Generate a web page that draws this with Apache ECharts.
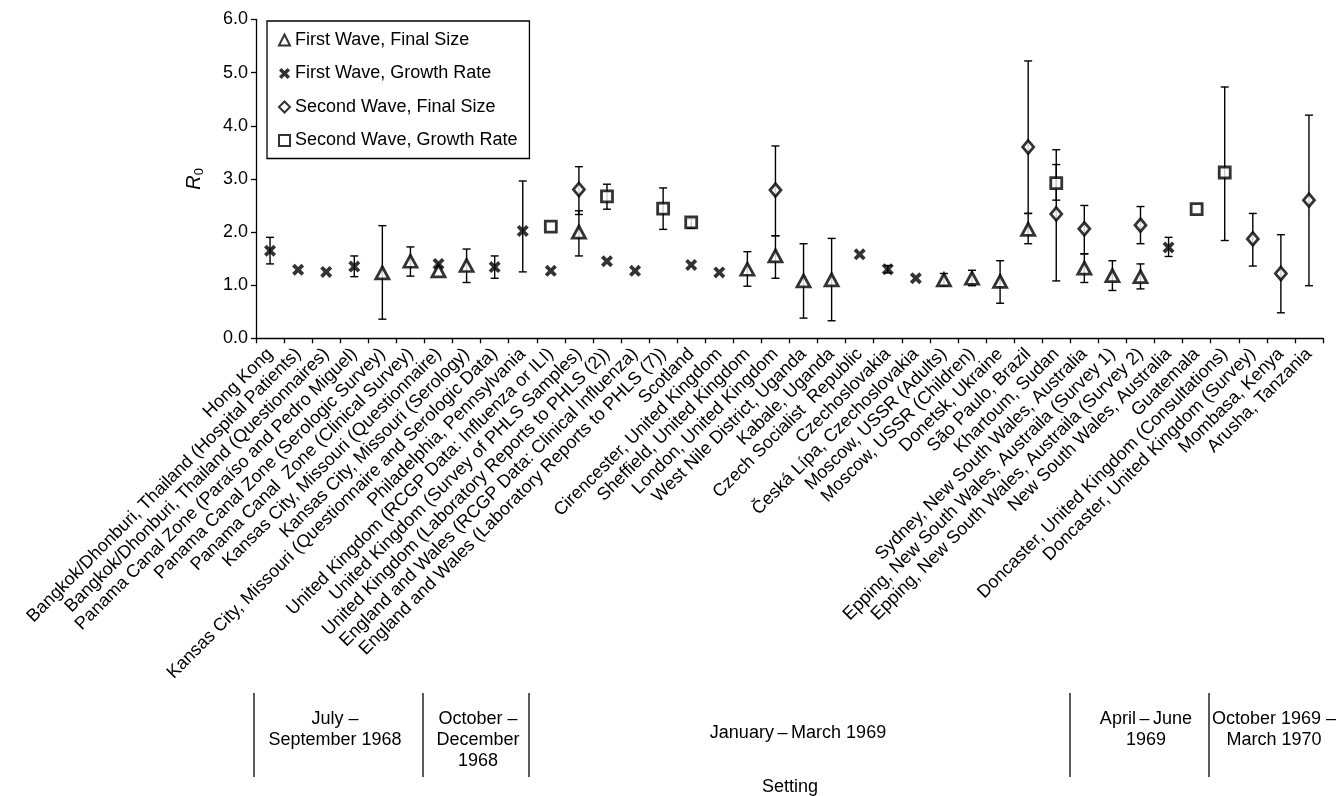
<!DOCTYPE html>
<html>
<head>
<meta charset="utf-8">
<script src="https://cdn.jsdelivr.net/npm/echarts@6/dist/echarts.min.js"></script>
<style>
html,body{margin:0;padding:0;background:#fff;}
#chart{width:1337px;height:796px;}
</style>
</head>
<body>
<div id="chart"></div>
<script>
const categories = [
  'Hong Kong',
  'Bangkok/Dhonburi, Thailand (Hospital Patients)',
  'Bangkok/Dhonburi, Thailand (Questionnaires)',
  'Panama Canal Zone (Paraíso and Pedro Miguel)',
  'Panama Canal Zone (Serologic Survey)',
  'Panama Canal  Zone (Clinical Survey)',
  'Kansas City, Missouri (Questionnaire)',
  'Kansas City, Missouri (Serology)',
  'Kansas City, Missouri (Questionnaire and Serologic Data)',
  'Philadelphia, Pennsylvania',
  'United Kingdom (RCGP Data: Influenza or ILI)',
  'United Kingdom (Survey of PHLS Samples)',
  'United Kingdom (Laboratory Reports to PHLS (2))',
  'England and Wales (RCGP Data: Clinical Influenza)',
  'England and Wales (Laboratory Reports to PHLS (7))',
  'Scotland',
  'Cirencester, United Kingdom',
  'Sheffield, United Kingdom',
  'London, United Kingdom',
  'West Nile District, Uganda',
  'Kabale, Uganda',
  'Czech Socialist  Republic',
  'Czechoslovakia',
  'Česká Lípa, Czechoslovakia',
  'Moscow, USSR (Adults)',
  'Moscow, USSR (Children)',
  'Donetsk, Ukraine',
  'São Paulo, Brazil',
  'Khartoum, Sudan',
  'Sydney, New South Wales, Australia',
  'Epping, New South Wales, Austraila (Survey 1)',
  'Epping, New South Wales, Austraila (Survey 2)',
  'New South Wales, Australia',
  'Guatemala',
  'Doncaster, United Kingdom (Consultations)',
  'Doncaster, United Kingdom (Survey)',
  'Mombasa, Kenya',
  'Arusha, Tanzania'
];

// [categoryIndex, R0, lower, upper]  (null bounds = no error bar)
const firstWaveFinalSize = [
  [4, 1.23, 0.36, 2.12], [5, 1.45, 1.17, 1.72], [6, 1.27, null, null], [7, 1.37, 1.05, 1.68],
  [11, 2.00, 1.55, 2.40], [17, 1.30, 0.98, 1.63], [18, 1.55, 1.13, 1.93], [19, 1.08, 0.38, 1.78],
  [20, 1.10, 0.33, 1.88], [24, 1.10, 0.99, 1.22], [25, 1.13, 0.99, 1.28], [26, 1.07, 0.66, 1.46],
  [27, 2.05, 1.78, 2.35], [29, 1.32, 1.05, 1.59], [30, 1.18, 0.90, 1.46], [31, 1.16, 0.93, 1.40]
];
const firstWaveGrowthRate = [
  [0, 1.65, 1.40, 1.90], [1, 1.29, null, null], [2, 1.25, null, null], [3, 1.35, 1.16, 1.55],
  [6, 1.40, null, null], [8, 1.34, 1.13, 1.55], [9, 2.02, 1.25, 2.96], [10, 1.27, null, null],
  [12, 1.45, null, null], [13, 1.27, null, null], [15, 1.38, null, null], [16, 1.24, null, null],
  [21, 1.58, null, null], [22, 1.30, 1.23, 1.37], [23, 1.13, null, null], [32, 1.71, 1.54, 1.90]
];
const secondWaveFinalSize = [
  [11, 2.80, 2.33, 3.23], [18, 2.79, 1.93, 3.62], [27, 3.60, 2.35, 5.22], [28, 2.34, 1.08, 3.55],
  [29, 2.06, 1.59, 2.50], [31, 2.13, 1.78, 2.48], [35, 1.87, 1.36, 2.35], [36, 1.22, 0.48, 1.95],
  [37, 2.60, 0.99, 4.20]
];
const secondWaveGrowthRate = [
  [10, 2.10, null, null], [12, 2.67, 2.43, 2.90], [14, 2.44, 2.05, 2.83], [15, 2.18, 2.07, 2.25],
  [28, 2.92, 2.60, 3.27], [33, 2.43, null, null], [34, 3.12, 1.84, 4.73]
];
const yTicks = [0, 1, 2, 3, 4, 5, 6];
const periods = [
  { text: 'July –\nSeptember 1968', x: 335, y: 730 },
  { text: 'October –\nDecember\n1968', x: 478, y: 740 },
  { text: 'January\u2009–\u2009March 1969', x: 798, y: 733 },
  { text: 'April\u2009–\u2009June\n1969', x: 1146, y: 730 },
  { text: 'October 1969 –\nMarch 1970', x: 1274, y: 730 }
];
const periodDividers = [254, 423, 529, 1070, 1209];

const FONT = '"Liberation Sans", Arial, Helvetica, sans-serif';
const X_PATH = 'path://M0,2.2 L2.2,0 L5,2.8 L7.8,0 L10,2.2 L7.2,5 L10,7.8 L7.8,10 L5,7.2 L2.2,10 L0,7.8 L2.8,5 Z';

function points(arr) { return arr.map(d => [d[0], d[1]]); }
function bars(arr) { return arr.filter(d => d[2] != null).map(d => [d[0], d[2], d[3]]); }

function renderErrorBar(params, api) {
  const lo = api.coord([api.value(0), api.value(1)]);
  const hi = api.coord([api.value(0), api.value(2)]);
  const w = 4;
  const style = { stroke: '#000', lineWidth: 1.4 };
  return {
    type: 'group',
    children: [
      { type: 'line', shape: { x1: lo[0], y1: lo[1], x2: hi[0], y2: hi[1] }, style },
      { type: 'line', shape: { x1: lo[0] - w, y1: lo[1], x2: lo[0] + w, y2: lo[1] }, style },
      { type: 'line', shape: { x1: hi[0] - w, y1: hi[1], x2: hi[0] + w, y2: hi[1] }, style }
    ]
  };
}

function errSeries(arr) {
  return {
    type: 'custom', renderItem: renderErrorBar, data: bars(arr),
    encode: { x: 0, y: [1, 2] }, z: 2, silent: true
  };
}

const hollow = { color: '#fff', borderColor: '#000', borderWidth: 2.8 };

const chart = echarts.init(document.getElementById('chart'), null, { renderer: 'canvas' });
const graphic = [];
periodDividers.forEach(x => graphic.push({
  type: 'line', shape: { x1: x, y1: 693, x2: x, y2: 777 },
  style: { stroke: '#000', lineWidth: 1.3 }
}));
periods.forEach(p => graphic.push({
  type: 'text', x: p.x, y: p.y,
  style: { text: p.text, font: '18px ' + FONT, fill: '#000', align: 'center', verticalAlign: 'middle', lineHeight: 21 }
}));
graphic.push({
  type: 'text', x: 790, y: 787,
  style: { text: 'Setting', font: '18px ' + FONT, fill: '#000', align: 'center', verticalAlign: 'middle' }
});

chart.setOption({
  animation: false,
  backgroundColor: '#fff',
  textStyle: { fontFamily: FONT, color: '#000' },
  grid: { left: 256, right: 14, top: 19.5, bottom: 457.7, containLabel: false },
  legend: {
    data: ['First Wave, Final Size', 'First Wave, Growth Rate', 'Second Wave, Final Size', 'Second Wave, Growth Rate'],
    orient: 'vertical', left: 267, top: 21,
    borderColor: '#000', borderWidth: 1.3, borderRadius: 0,
    padding: [10, 12, 9, 11], itemGap: 15.5, itemWidth: 11, itemHeight: 11, itemTextGap: 7,
    textStyle: { fontSize: 18, fontFamily: FONT, color: '#000' },
    backgroundColor: '#fff'
  },
  xAxis: {
    type: 'category', data: categories, boundaryGap: true,
    axisLine: { lineStyle: { color: '#000', width: 1.3 } },
    axisTick: { show: true, interval: 0, length: 5, lineStyle: { color: '#000', width: 1.3 } },
    axisLabel: { interval: 0, rotate: 45, fontSize: 18, color: '#000', fontFamily: FONT, margin: 13 },
    splitLine: { show: false }
  },
  yAxis: {
    type: 'value', min: yTicks[0], max: yTicks[yTicks.length - 1], interval: 1,
    name: '{r|R}{s|0}', nameLocation: 'middle', nameGap: 50,
    nameTextStyle: {
      rich: {
        r: { fontStyle: 'italic', fontSize: 20, fontFamily: FONT, color: '#000', lineHeight: 23 },
        s: { fontSize: 13, fontFamily: FONT, color: '#000', lineHeight: 23, padding: [9, 0, 0, 0] }
      }
    },
    axisLine: { show: true, lineStyle: { color: '#000', width: 1.3 } },
    axisTick: { show: true, length: 5, lineStyle: { color: '#000', width: 1.3 } },
    axisLabel: { formatter: v => v.toFixed(1), fontSize: 18, color: '#000', fontFamily: FONT, margin: 8 },
    splitLine: { show: false }
  },
  graphic: graphic,
  series: [
    errSeries(firstWaveFinalSize),
    errSeries(firstWaveGrowthRate),
    errSeries(secondWaveFinalSize),
    errSeries(secondWaveGrowthRate),
    {
      name: 'First Wave, Final Size', type: 'scatter', data: points(firstWaveFinalSize),
      symbol: 'triangle', symbolSize: [13, 12], itemStyle: hollow, z: 5
    },
    {
      name: 'First Wave, Growth Rate', type: 'scatter', data: points(firstWaveGrowthRate),
      symbol: X_PATH, symbolSize: 12, itemStyle: { color: '#000', borderWidth: 0 }, z: 6
    },
    {
      name: 'Second Wave, Final Size', type: 'scatter', data: points(secondWaveFinalSize),
      symbol: 'diamond', symbolSize: [11, 13], itemStyle: hollow, z: 5
    },
    {
      name: 'Second Wave, Growth Rate', type: 'scatter', data: points(secondWaveGrowthRate),
      symbol: 'rect', symbolSize: 11, itemStyle: hollow, z: 5
    }
  ]
});
</script>
</body>
</html>
